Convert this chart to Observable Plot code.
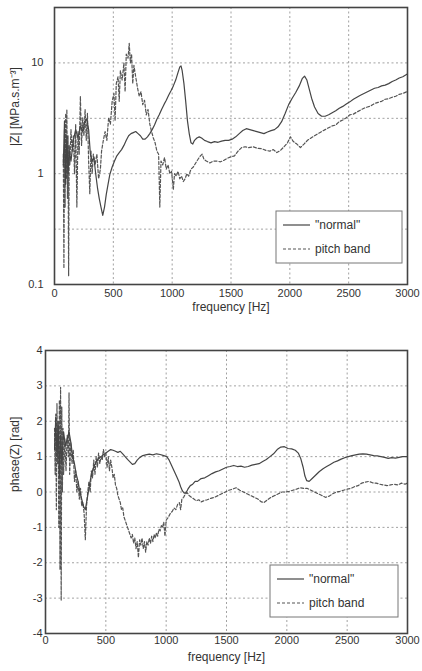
<!DOCTYPE html>
<html>
<head>
<meta charset="utf-8">
<script src="https://cdn.jsdelivr.net/npm/d3@7"></script>
<script src="https://cdn.jsdelivr.net/npm/@observablehq/plot@0.6"></script>
<style>
  body { margin: 0; background: #fff; }
  svg { display: block; }
</style>
</head>
<body>
<div id="topPanel"></div>
<div id="botPanel"></div>
<script>
// ---------- data ----------
const xTicks = [0, 500, 1000, 1500, 2000, 2500, 3000];
const magTicks = [0.1, 1, 10];
const magGrid = [0.316, 1, 3.16, 10];
const phaseTicks = [-4, -3, -2, -1, 0, 1, 2, 3, 4];
const seriesNames = ["\"normal\"", "pitch band"];
const xLabel = "frequency [Hz]";
const magLabel = "|Z| [MPa.s.m\u207B\u00B3]";
const phaseLabel = "phase(Z) [rad]";

// |Z| of the "normal" note: [frequency Hz, MPa.s/m^3]
const normalMag = [[75,1.2],[85,3.0],[95,0.8],[105,2.2],[115,1.0],[125,1.6],[140,1.3],[160,2.0],[180,2.5],[200,2.1],[220,2.7],[240,2.4],[260,3.0],[275,3.1],[290,2.5],[305,1.5],[320,1.3],[335,1.4],[350,1.0],[365,0.75],[380,0.6],[395,0.5],[410,0.42],[425,0.5],[440,0.65],[455,0.8],[470,0.98],[490,1.15],[510,1.3],[530,1.45],[550,1.55],[570,1.65],[590,1.8],[610,2.0],[630,2.2],[650,2.3],[670,2.35],[690,2.4],[710,2.3],[730,2.2],[750,2.05],[770,2.05],[790,2.15],[810,2.3],[830,2.5],[850,2.75],[870,3.1],[890,3.4],[910,3.8],[930,4.2],[950,4.6],[970,5.1],[990,5.6],[1010,6.2],[1030,7.0],[1050,8.2],[1065,9.2],[1075,9.4],[1085,8.5],[1100,6.5],[1115,4.5],[1130,3.0],[1145,2.3],[1160,1.9],[1175,1.85],[1190,2.0],[1210,2.1],[1230,2.15],[1250,2.1],[1275,2.0],[1300,1.95],[1330,1.9],[1360,1.95],[1390,1.92],[1420,1.97],[1450,2.0],[1480,2.0],[1510,2.05],[1540,2.15],[1570,2.3],[1600,2.45],[1630,2.55],[1660,2.5],[1690,2.45],[1720,2.4],[1750,2.35],[1780,2.3],[1810,2.38],[1840,2.45],[1870,2.5],[1900,2.65],[1930,2.95],[1960,3.5],[1990,4.2],[2020,4.8],[2050,5.4],[2080,6.2],[2105,7.2],[2125,7.6],[2145,7.0],[2165,5.8],[2185,4.8],[2210,4.0],[2240,3.5],[2270,3.3],[2300,3.3],[2330,3.4],[2360,3.55],[2390,3.7],[2420,3.9],[2450,4.05],[2480,4.25],[2510,4.45],[2540,4.7],[2570,4.9],[2600,5.1],[2630,5.3],[2660,5.5],[2690,5.7],[2720,5.9],[2750,6.0],[2780,6.2],[2810,6.3],[2840,6.5],[2870,6.8],[2900,7.0],[2930,7.3],[2960,7.5],[2995,7.9]];

// |Z| of the pitch-bend note
const pitchMag = [[75,1.5],[80,0.14],[85,2.5],[90,0.5],[95,3.5],[100,0.9],[105,3.8],[110,0.6],[115,2.2],[120,0.12],[125,1.8],[130,1.2],[140,2.5],[150,1.6],[160,2.2],[170,1.0],[180,2.8],[190,0.5],[200,2.4],[210,1.5],[220,5.0],[230,1.8],[240,3.2],[250,2.2],[260,3.8],[270,2.0],[280,3.5],[290,1.3],[300,0.66],[310,1.6],[320,1.0],[330,1.5],[345,1.2],[360,1.5],[375,0.9],[390,1.1],[400,1.6],[415,2.0],[430,2.4],[445,2.0],[460,3.2],[475,2.8],[490,4.5],[505,5.3],[515,3.0],[525,6.5],[540,7.5],[550,4.5],[560,8.5],[575,7.0],[590,10],[600,5.5],[610,12],[625,11],[635,15],[645,10],[655,12],[665,6.5],[675,9.5],[690,7.5],[705,6.0],[720,5.0],[735,5.5],[750,4.2],[765,4.6],[780,3.4],[795,3.8],[810,2.8],[825,2.4],[840,2.1],[855,1.9],[870,1.6],[885,1.5],[895,0.5],[905,1.3],[920,1.2],[935,1.4],[950,1.1],[965,1.2],[980,1.0],[995,1.05],[1010,0.72],[1020,1.0],[1035,0.95],[1050,1.05],[1065,0.9],[1080,0.95],[1095,0.85],[1110,0.9],[1125,1.0],[1140,0.95],[1160,1.1],[1180,1.15],[1200,1.25],[1220,1.35],[1240,1.45],[1255,1.5],[1270,1.35],[1290,1.3],[1320,1.25],[1350,1.3],[1380,1.3],[1410,1.28],[1440,1.32],[1470,1.38],[1500,1.42],[1530,1.45],[1560,1.6],[1590,1.72],[1620,1.75],[1650,1.72],[1690,1.75],[1720,1.7],[1760,1.68],[1800,1.62],[1830,1.6],[1860,1.65],[1890,1.55],[1920,1.62],[1950,1.75],[1980,1.9],[2005,2.15],[2030,1.95],[2060,1.85],[2090,1.72],[2120,1.85],[2150,2.0],[2180,2.1],[2210,2.2],[2240,2.3],[2270,2.4],[2300,2.5],[2330,2.6],[2360,2.7],[2390,2.75],[2420,2.95],[2450,3.05],[2480,3.2],[2510,3.4],[2540,3.45],[2570,3.6],[2600,3.75],[2630,3.9],[2660,4.0],[2690,4.1],[2720,4.3],[2750,4.4],[2780,4.5],[2810,4.7],[2840,4.75],[2870,4.9],[2900,5.0],[2930,5.2],[2960,5.3],[2995,5.5]];

// phase(Z) of the "normal" note [Hz, rad]
const normalPhase = [[75,1.2],[85,2.1],[95,1.0],[105,1.9],[115,0.4],[125,1.6],[135,0.8],[150,1.7],[165,1.3],[180,1.5],[195,1.7],[210,1.4],[225,1.0],[240,0.8],[255,0.5],[270,0.3],[285,0.0],[300,-0.2],[315,-0.4],[330,-0.5],[345,-0.2],[360,0.1],[375,0.4],[390,0.6],[405,0.75],[420,0.85],[440,0.95],[460,1.0],[480,1.05],[500,1.1],[520,1.15],[540,1.2],[560,1.18],[580,1.15],[600,1.12],[620,1.15],[640,1.08],[660,1.0],[680,0.92],[700,0.85],[720,0.78],[740,0.8],[760,0.9],[780,0.97],[800,1.02],[830,1.05],[860,1.07],[890,1.05],[920,1.08],[950,1.06],[980,1.03],[1005,1.0],[1025,0.9],[1045,0.75],[1065,0.6],[1085,0.45],[1105,0.3],[1120,0.15],[1135,0.03],[1150,-0.03],[1165,-0.02],[1180,0.08],[1200,0.18],[1220,0.22],[1240,0.3],[1260,0.3],[1290,0.38],[1320,0.4],[1350,0.46],[1380,0.52],[1410,0.57],[1440,0.6],[1470,0.65],[1500,0.7],[1530,0.72],[1560,0.75],[1590,0.72],[1620,0.73],[1650,0.7],[1680,0.72],[1710,0.76],[1740,0.78],[1770,0.8],[1800,0.86],[1830,0.92],[1860,1.0],[1890,1.08],[1920,1.2],[1950,1.27],[1980,1.28],[2010,1.23],[2040,1.22],[2070,1.18],[2095,1.1],[2115,0.95],[2135,0.7],[2150,0.45],[2165,0.32],[2185,0.3],[2210,0.38],[2240,0.48],[2270,0.58],[2300,0.66],[2330,0.72],[2360,0.78],[2390,0.84],[2420,0.88],[2450,0.93],[2480,0.97],[2510,1.0],[2540,1.03],[2570,1.05],[2600,1.07],[2630,1.08],[2660,1.07],[2690,1.05],[2720,1.03],[2750,1.02],[2780,1.0],[2810,0.98],[2840,0.95],[2870,0.97],[2900,0.96],[2930,0.98],[2960,1.0],[2995,1.0]];

// phase(Z) of the pitch-bend note
const pitchPhase = [[75,1.8],[80,0.5],[85,2.2],[90,-0.5],[95,2.5],[100,0.8],[105,2.0],[110,-1.0],[115,2.6],[120,-2.2],[125,2.96],[130,-3.07],[135,2.4],[140,0.0],[145,1.8],[150,0.5],[160,1.5],[170,0.6],[180,1.6],[190,1.0],[195,2.8],[200,0.5],[210,1.4],[220,0.8],[230,1.2],[240,0.3],[250,0.6],[260,0.0],[270,0.3],[280,-0.2],[290,0.1],[300,-0.4],[310,-0.3],[320,-0.6],[330,-1.35],[340,-0.4],[350,0.0],[360,0.3],[370,0.0],[380,0.6],[390,0.4],[400,0.9],[410,0.5],[420,1.0],[430,0.7],[440,1.1],[450,0.8],[460,1.0],[470,0.9],[480,1.2],[490,1.0],[500,1.1],[510,0.7],[520,1.0],[530,0.6],[540,0.9],[550,0.7],[560,0.4],[570,0.5],[580,0.2],[590,0.1],[600,-0.1],[610,-0.2],[620,-0.3],[630,-0.5],[640,-0.45],[650,-0.7],[660,-0.8],[670,-0.9],[680,-1.0],[690,-1.1],[700,-1.2],[710,-1.3],[720,-1.2],[730,-1.45],[740,-1.3],[750,-1.6],[760,-1.4],[770,-1.85],[780,-1.35],[790,-1.5],[800,-1.3],[810,-1.6],[820,-1.4],[830,-1.7],[840,-1.4],[850,-1.5],[860,-1.3],[870,-1.45],[880,-1.25],[890,-1.4],[900,-1.2],[910,-1.3],[920,-1.15],[930,-1.25],[940,-1.05],[950,-1.1],[960,-0.95],[970,-1.0],[980,-0.85],[990,-1.25],[1000,-0.8],[1010,-0.75],[1020,-0.7],[1035,-0.6],[1050,-0.55],[1065,-0.45],[1080,-0.5],[1095,-0.35],[1110,-0.3],[1120,-0.5],[1130,-0.2],[1145,-0.15],[1160,-0.05],[1175,-0.02],[1190,-0.1],[1210,-0.15],[1230,-0.2],[1250,-0.25],[1270,-0.22],[1290,-0.28],[1310,-0.25],[1340,-0.22],[1370,-0.18],[1400,-0.15],[1430,-0.1],[1460,-0.05],[1490,0.0],[1520,0.05],[1550,0.08],[1580,0.12],[1610,0.05],[1640,0.0],[1670,-0.05],[1700,-0.1],[1730,-0.15],[1760,-0.2],[1790,-0.28],[1810,-0.3],[1840,-0.22],[1870,-0.15],[1900,-0.1],[1930,-0.05],[1960,0.0],[1990,0.0],[2020,0.02],[2050,0.05],[2080,0.08],[2110,0.12],[2140,0.1],[2170,0.1],[2200,0.05],[2230,0.0],[2260,-0.05],[2290,-0.1],[2320,-0.15],[2350,-0.12],[2380,-0.05],[2410,0.0],[2440,0.02],[2470,0.05],[2500,0.08],[2530,0.1],[2560,0.15],[2590,0.18],[2620,0.25],[2650,0.28],[2680,0.3],[2710,0.26],[2740,0.25],[2770,0.22],[2800,0.2],[2830,0.18],[2860,0.2],[2890,0.22],[2920,0.2],[2950,0.25],[2980,0.22],[2998,0.25]];

// ---------- styling ----------
const FONT = "'Liberation Sans', Arial, sans-serif";
const normalStyle = {stroke: "#454545", strokeWidth: 1.2};
const pitchStyle = {stroke: "#555555", strokeWidth: 1.2, strokeDasharray: "3,2"};
const gridStyle = {stroke: "#8a8a8a", strokeOpacity: 1, strokeWidth: 0.8, strokeDasharray: "2,2.5"};
const fmt = d => String(d);

function addLegend(svg, x0, y0, w, h) {
  const g = d3.select(svg).append("g").attr("font-family", FONT).attr("font-size", 12)
    .attr("fill", "#333").attr("text-anchor", "start");
  g.append("rect").attr("x", x0).attr("y", y0).attr("width", w).attr("height", h)
    .attr("fill", "#fff").attr("stroke", "#777").attr("stroke-width", 1);
  const styles = [normalStyle, pitchStyle];
  seriesNames.forEach((name, i) => {
    const yy = y0 + 14 + i * 24;
    g.append("line").attr("x1", x0 + 7).attr("x2", x0 + 34).attr("y1", yy).attr("y2", yy)
      .attr("stroke", styles[i].stroke).attr("stroke-width", styles[i].strokeWidth)
      .attr("stroke-dasharray", styles[i].strokeDasharray || null);
    g.append("text").attr("x", x0 + 39).attr("y", yy).attr("dy", "0.35em")
      .attr("text-anchor", "start").text(name);
  });
}

const common = {
  width: 422,
  style: {fontFamily: FONT, fontSize: "11px", color: "#333", background: "#fff"},
};

// ---------- top: magnitude ----------
const magChart = Plot.plot({
  ...common,
  height: 322,
  marginTop: 7, marginBottom: 38, marginLeft: 54, marginRight: 15,
  x: {domain: [0, 3000], label: null},
  y: {type: "log", domain: [0.1, 31.62], label: null},
  marks: [
    Plot.gridX(xTicks.slice(1, -1), gridStyle),
    Plot.gridY(magGrid, gridStyle),
    Plot.line(pitchMag, {x: d => d[0], y: d => d[1], ...pitchStyle}),
    Plot.line(normalMag, {x: d => d[0], y: d => d[1], ...normalStyle}),
    Plot.frame({stroke: "#444", strokeWidth: 1.6}),
    Plot.axisX(xTicks, {tickSize: 0, tickPadding: 5, tickFormat: fmt, label: null}),
    Plot.axisY(magTicks, {tickSize: 0, tickPadding: 11, tickFormat: fmt, label: null}),
    Plot.text([xLabel], {text: d => d, frameAnchor: "bottom", dy: 26, fontSize: 12}),
    Plot.text([magLabel], {text: d => d, frameAnchor: "left", dx: -39, rotate: -90, fontSize: 12})
  ]
});
addLegend(magChart, 276, 211, 126, 52);
document.getElementById("topPanel").append(magChart);

// ---------- bottom: phase ----------
const phaseChart = Plot.plot({
  ...common,
  height: 349,
  marginTop: 28, marginBottom: 38, marginLeft: 45, marginRight: 15,
  x: {domain: [0, 3000], label: null},
  y: {domain: [-4, 4], label: null},
  marks: [
    Plot.gridX(xTicks.slice(1, -1), gridStyle),
    Plot.gridY(phaseTicks.slice(1, -1), gridStyle),
    Plot.line(pitchPhase, {x: d => d[0], y: d => d[1], ...pitchStyle}),
    Plot.line(normalPhase, {x: d => d[0], y: d => d[1], ...normalStyle}),
    Plot.frame({stroke: "#444", strokeWidth: 1.6}),
    Plot.axisX(xTicks, {tickSize: 0, tickPadding: 3, tickFormat: fmt, label: null}),
    Plot.axisY(phaseTicks, {tickSize: 0, tickPadding: 3, tickFormat: fmt, label: null}),
    Plot.text([xLabel], {text: d => d, frameAnchor: "bottom", dy: 27, fontSize: 12}),
    Plot.text([phaseLabel], {text: d => d, frameAnchor: "left", dx: -30, rotate: -90, fontSize: 12})
  ]
});
addLegend(phaseChart, 270, 243, 128, 52);
document.getElementById("botPanel").append(phaseChart);
</script>
</body>
</html>
